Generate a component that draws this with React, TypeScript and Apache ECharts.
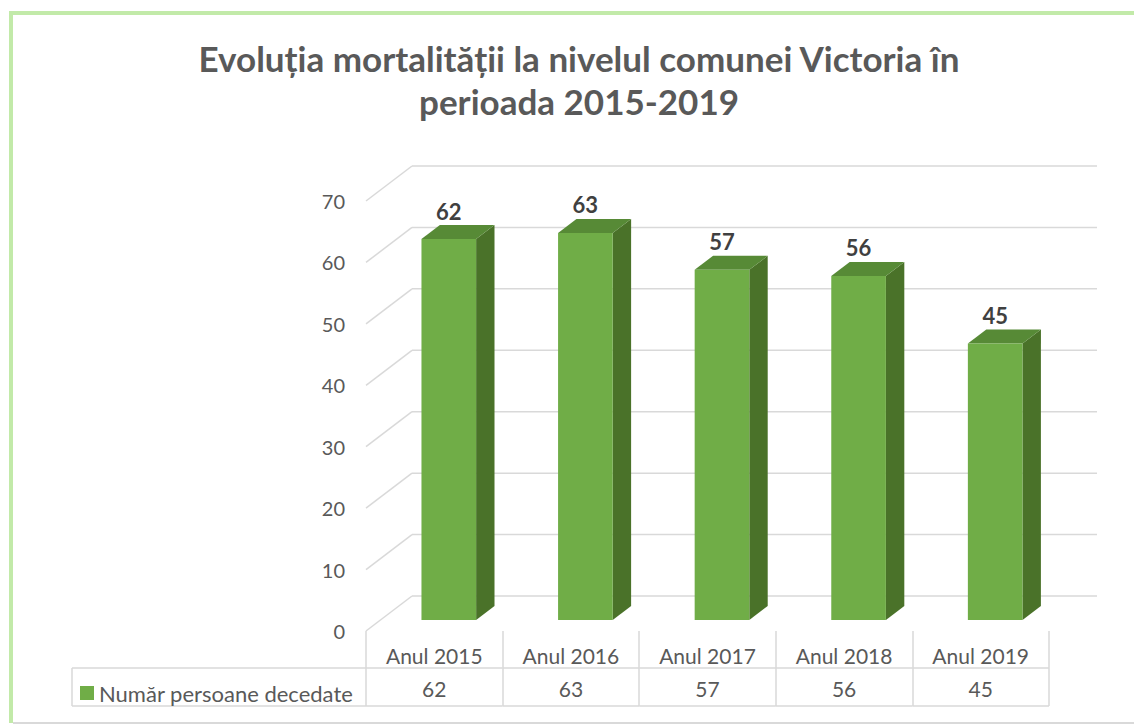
import React, { useEffect, useRef } from "react";
import * as echarts from "echarts";

const categories = ["Anul 2015", "Anul 2016", "Anul 2017", "Anul 2018", "Anul 2019"];
const values = [62, 63, 57, 56, 45];
const yTicks = [0, 10, 20, 30, 40, 50, 60, 70];
const seriesName = "Număr persoane decedate";
const titleLines = ["Evoluția mortalității la nivelul comunei Victoria în", "perioada 2015-2019"];

const FONT = "Lato, 'Open Sans', sans-serif";
const TEXT = "#595959";
const GRID = "#d9d9d9";
const DX = 46;
const DY = 35;
const F1 = 0.315;
const F2 = 0.715;
const LEG_LEFT = 72;

export default function App() {
  const ref = useRef<HTMLDivElement>(null);
  useEffect(() => {
    if (!ref.current) return;
    const chart = echarts.init(ref.current, null, { renderer: "svg" });
    const option: any = {
      animation: false,
      backgroundColor: "#ffffff",
      title: {
        text: titleLines.join("\n"),
        left: 574,
        top: 31,
        textAlign: "center",
        textStyle: {
          fontFamily: FONT,
          fontSize: 35,
          fontWeight: "bold",
          color: TEXT,
          lineHeight: 43,
        },
      },
      legend: {
        data: [{ name: seriesName, icon: "rect" }],
        left: 75,
        top: 677,
        itemWidth: 14,
        itemHeight: 14,
        itemGap: 5,
        textStyle: { fontFamily: FONT, fontSize: 22, color: TEXT },
      },
      grid: { left: 366, top: 201, width: 683, height: 430 },
      xAxis: {
        type: "category",
        data: categories,
        boundaryGap: true,
        axisLine: { show: false },
        axisTick: { show: true, length: 75, lineStyle: { color: GRID, width: 1.5 } },
        axisLabel: { margin: 14, fontFamily: FONT, fontSize: 21, color: TEXT, interval: 0 },
      },
      yAxis: {
        type: "value",
        min: 0,
        max: 70,
        interval: 10,
        axisLine: { show: false },
        axisTick: { show: false },
        splitLine: { show: false },
        axisLabel: { margin: 21, fontFamily: FONT, fontSize: 20, color: TEXT },
      },
      graphic: [
        { type: "line", shape: { x1: 10, y1: 13, x2: 1134, y2: 13 }, style: { stroke: "#c2eaa9", lineWidth: 4 } },
        { type: "line", shape: { x1: 11, y1: 11, x2: 11, y2: 723 }, style: { stroke: "#c2eaa9", lineWidth: 4 } },
        { type: "line", shape: { x1: 13, y1: 723, x2: 1134, y2: 723 }, style: { stroke: GRID, lineWidth: 2 } },
      ],
      series: [
        {
          type: "custom",
          name: "grid",
          silent: true,
          clip: false,
          z: 1,
          data: yTicks.map((t) => [0, t]),
          encode: { x: 0, y: 1 },
          renderItem: (params: any, api: any) => {
            const v = api.value(1);
            const y = api.coord([0, v])[1];
            const cs = params.coordSys;
            const x0 = cs.x;
            return {
              type: "group",
              children: [
                { type: "line", shape: { x1: x0, y1: y, x2: x0 + DX, y2: y - DY }, style: { stroke: GRID, lineWidth: 1.5 } },
                { type: "line", shape: { x1: x0 + DX, y1: y - DY, x2: x0 + DX + cs.width + 2, y2: y - DY }, style: { stroke: GRID, lineWidth: 1.5 } },
              ],
            };
          },
        },
        {
          type: "custom",
          name: seriesName,
          clip: false,
          z: 3,
          itemStyle: { color: "#70AD47" },
          data: values.map((v, i) => [i, v]),
          encode: { x: 0, y: 1 },
          renderItem: (params: any, api: any) => {
            const i = api.value(0);
            const v = api.value(1);
            const top = api.coord([i, v]);
            const base = api.coord([i, 0]);
            const band = api.size([1, 0])[0];
            const w = band * 0.4;
            const fx = top[0] + DX * F1 - w / 2;
            const fy = top[1] - DY * F1;
            const by = base[1] - DY * F1;
            const ddx = DX * (F2 - F1);
            const ddy = DY * (F2 - F1);
            return {
              type: "group",
              children: [
                { type: "polygon", shape: { points: [[fx + w, fy], [fx + w + ddx, fy - ddy], [fx + w + ddx, by - ddy], [fx + w, by]] }, style: { fill: "#4A7229" } },
                { type: "polygon", shape: { points: [[fx, fy], [fx + ddx, fy - ddy], [fx + w + ddx, fy - ddy], [fx + w, fy]] }, style: { fill: "#578A36" } },
                { type: "rect", shape: { x: fx, y: fy, width: w, height: by - fy }, style: { fill: "#70AD47" } },
                {
                  type: "text",
                  style: {
                    text: String(v),
                    x: fx + w / 2,
                    y: fy - ddy - 3,
                    align: "center",
                    verticalAlign: "bottom",
                    fontFamily: FONT,
                    fontSize: 22,
                    fontWeight: "bold",
                    fill: "#404040",
                  },
                },
              ],
            };
          },
        },
        {
          type: "custom",
          name: "table",
          silent: true,
          clip: false,
          z: 2,
          data: values.map((v, i) => [i, v]),
          encode: { x: 0, y: 1 },
          renderItem: (params: any, api: any) => {
            const i = api.value(0);
            const v = api.value(1);
            const base = api.coord([i, 0]);
            const band = api.size([1, 0])[0];
            const left = base[0] - band / 2;
            const right = left + band;
            const y0 = base[1];
            const ls = { stroke: GRID, lineWidth: 1.5 };
            const children: any[] = [
              { type: "line", shape: { x1: left, y1: y0 + 37, x2: right, y2: y0 + 37 }, style: ls },
              { type: "line", shape: { x1: left, y1: y0 + 75, x2: right, y2: y0 + 75 }, style: ls },
              {
                type: "text",
                style: {
                  text: String(v),
                  x: base[0],
                  y: y0 + 57,
                  align: "center",
                  verticalAlign: "middle",
                  fontFamily: FONT,
                  fontSize: 21,
                  fill: TEXT,
                },
              },
            ];
            if (i === 0) {
              children.push(
                { type: "line", shape: { x1: LEG_LEFT, y1: y0 + 37, x2: left, y2: y0 + 37 }, style: ls },
                { type: "line", shape: { x1: LEG_LEFT, y1: y0 + 75, x2: left, y2: y0 + 75 }, style: ls },
                { type: "line", shape: { x1: LEG_LEFT, y1: y0 + 37, x2: LEG_LEFT, y2: y0 + 75 }, style: ls }
              );
            }
            return { type: "group", children };
          },
        },
      ],
    };
    chart.setOption(option);
    return () => chart.dispose();
  }, []);
  return <div ref={ref} style={{ position: "absolute", left: 0, top: 0, width: 1134, height: 725 }} />;
}
